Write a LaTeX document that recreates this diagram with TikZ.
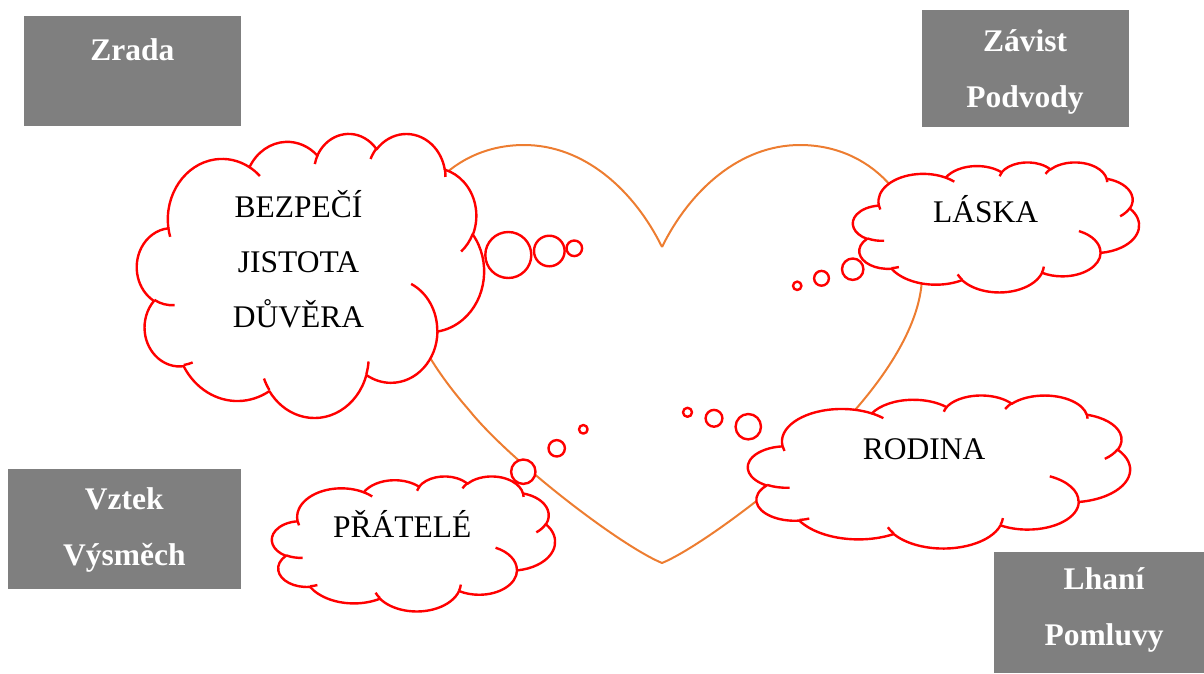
\documentclass[tikz,border=0pt]{standalone}
\usepackage{fontspec}
\setmainfont{Liberation Serif}
\usepackage{xcolor}
\definecolor{xred}{HTML}{FF0000}
\definecolor{xorange}{HTML}{ED7D31}
\definecolor{xgrey}{HTML}{7F7F7F}
\usepackage{tikz}
\usetikzlibrary{positioning}
\tikzset{
  %% Styles %%
  heartline/.style = {xorange, line width=2pt, line join=round},
  cloudline/.style = {xred, line width=2.4pt, line join=round},
  bubble/.style = {cloudline, fill=white},
  greybox/.style = {fill=xgrey, inner sep=0pt, anchor=north west},
  boxtext/.style = {text=white, font=\fontsize{31.5}{56}\selectfont\bfseries, align=center, anchor=base, inner sep=0pt},
  cloudtext/.style = {font=\fontsize{31.5}{55}\selectfont, align=center, anchor=base, inner sep=0pt},
  pics/thought/.style n args = {2}{
      code = {
          % Parameters
          \pgfmathsetmacro{\sx}{#1/432}
          \pgfmathsetmacro{\sy}{#2/432}
          \begin{scope}[xscale=\sx, yscale=\sy]
              % Outline
              \draw[cloudline, fill=white] (39,143.7)
                  arc[start angle=-187.75, delta angle=128.11, x radius=67.53, y radius=91.90]
                  arc[start angle=-152.02, delta angle=106.56, x radius=53.33, y radius=72.67]
                  arc[start angle=-153.50, delta angle=116.19, x radius=43.65, y radius=59.45]
                  arc[start angle=-139.72, delta angle=129.51, x radius=48.57, y radius=65.95]
                  arc[start angle=-74.77, delta angle=97.98, x radius=53.33, y radius=72.73]
                  arc[start angle=-37.51, delta angle=119.37, x radius=67.75, y radius=92.20]
                  arc[start angle=0.46, delta angle=121.51, x radius=57.85, y radius=78.67]
                  arc[start angle=16.84, delta angle=129.38, x radius=67.52, y radius=92.15]
                  arc[start angle=58.98, delta angle=91.22, x radius=77.20, y radius=105.43]
                  arc[start angle=83.31, delta angle=139.79, x radius=43.60, y radius=59.18]
                  arc[start angle=120.36, delta angle=143.75, x radius=43.45, y radius=59.45]
                  -- cycle;
              % Inner puff lines
              \draw[cloudline]
                  (46.93,261.77) arc[start angle=85.55, delta angle=34.81, x radius=43.45, y radius=59.45]
                  (69.28,348.99) arc[start angle=68.24, delta angle=15.07, x radius=43.60, y radius=59.18]
                  (164.78,390.90) arc[start angle=146.22, delta angle=12.25, x radius=67.52, y radius=92.15]
                  (288.27,347.51) arc[start angle=4.74, delta angle=12.10, x radius=67.52, y radius=92.15]
                  (341.29,229.54) arc[start angle=-64.03, delta angle=64.49, x radius=57.85, y radius=78.67]
                  (417.98,153.54) arc[start angle=23.21, delta angle=26.42, x radius=53.33, y radius=72.73]
                  (383.24,54.26) arc[start angle=-10.21, delta angle=11.03, x radius=48.57, y radius=65.95]
                  (290.78,39.52) arc[start angle=-156.29, delta angle=16.57, x radius=48.57, y radius=65.95]
                  (221.41,47.20) arc[start angle=-167.73, delta angle=14.23, x radius=43.65, y radius=59.45]
                  (140.00,51.92) arc[start angle=-59.64, delta angle=13.90, x radius=67.53, y radius=91.90]
                  (41.27,157.89) arc[start angle=163.19, delta angle=9.06, x radius=67.53, y radius=91.90];
          \end{scope}
      }
  }
}

\begin{document}
\begin{tikzpicture}[x=1pt, y=1pt, yscale=-1]
    \useasboundingbox (0,0) rectangle (1204,673);

    % Heart
    \draw[heartline] (662,247)
        .. controls (690,190) and (740,145) .. (800,145)
        .. controls (870,145) and (922,200) .. (922,275)
        .. controls (922,320) and (890,370) .. (855,410)
        .. controls (815,460) and (705,545) .. (662,563)
        .. controls (619,545) and (509,460) .. (469,410)
        .. controls (434,370) and (402,320) .. (402,275)
        .. controls (402,200) and (454,145) .. (524,145)
        .. controls (584,145) and (634,190) .. (662,247);

    % Grey boxes
    \node[greybox, minimum width=217pt, minimum height=110pt] (zradabox) at (24,16) {};
    \node[greybox, minimum width=207pt, minimum height=117pt] (zavistbox) at (922,10) {};
    \node[greybox, minimum width=233pt, minimum height=120pt] (vztekbox) at (8,469) {};
    \node[greybox, minimum width=220pt, minimum height=121pt] (lhanibox) at (994,552) {};

    % Clouds
    \pic[transform shape] at (137,133) {thought={347}{284}};
    \pic[transform shape] at (853,162) {thought={286}{130}};
    \pic[transform shape] at (272,476) {thought={283}{135}};
    \pic[transform shape] at (748,395) {thought={382}{153}};

    % Bubbles
    \foreach \x/\y/\r in {508.3/255/23, 549.3/251/15.3, 574.3/248.3/7.8,
                          852.7/269.2/10.7, 821.5/278.3/7.4, 797.2/285.8/4.2,
                          523.3/471.7/12.2, 556.7/448.3/8.2, 583.3/429.3/4.3,
                          748.3/426.7/12.7, 714/418.3/8.4, 687.5/412.3/4.5}
        \draw[bubble] (\x,\y) circle[radius=\r];

    % Texts (anchored at the baseline of the last line)
    \node[cloudtext] (bezpeci) at (298.5,327) {BEZPEČÍ\\JISTOTA\\DŮVĚRA};
    \node[cloudtext] (laska) at (985.5,222.3) {LÁSKA};
    \node[cloudtext] (pratele) at (402.3,537.3) {PŘÁTELÉ};
    \node[cloudtext] (rodina) at (924.2,459) {RODINA};
    \node[boxtext] (zrada) at (132.3,60) {Zrada};
    \node[boxtext] (zavist) at (1025,107) {Závist\\Podvody};
    \node[boxtext] (vztek) at (124.3,565) {Vztek\\Výsměch};
    \node[boxtext] (lhani) at (1104,645) {Lhaní\\Pomluvy};
\end{tikzpicture}
\end{document}
